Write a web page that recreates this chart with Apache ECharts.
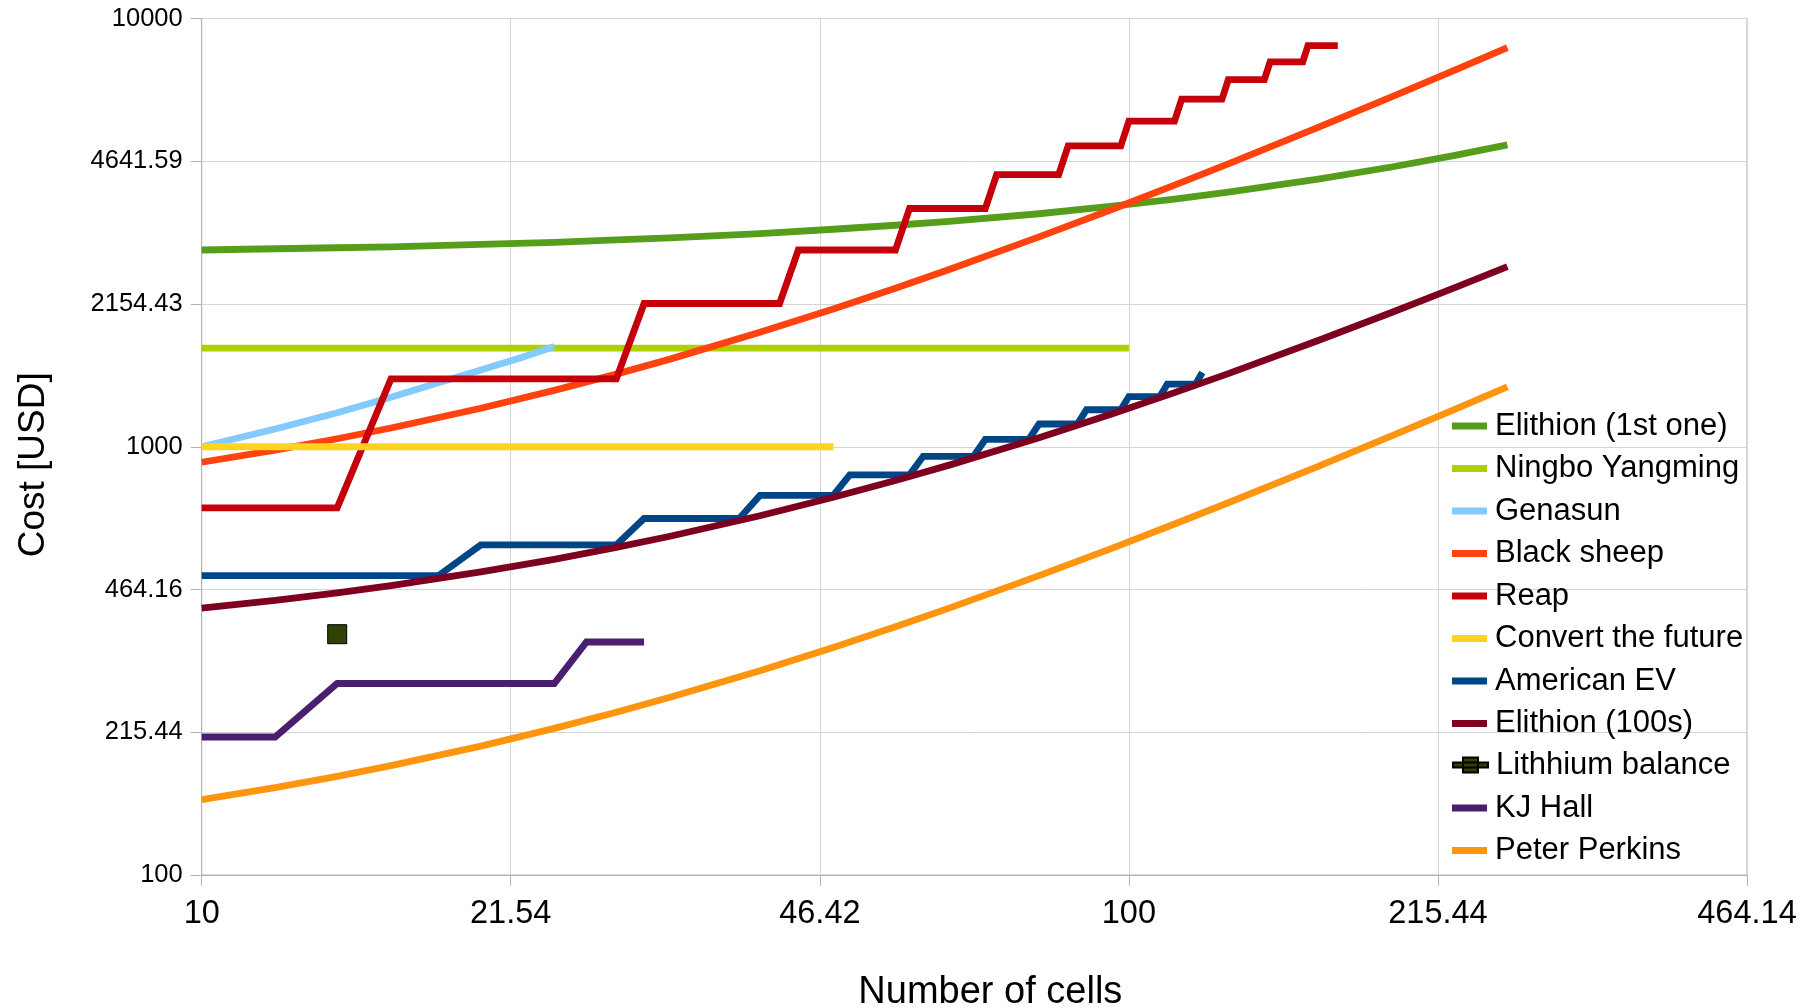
<!DOCTYPE html>
<html>
<head>
<meta charset="utf-8">
<script src="https://cdn.jsdelivr.net/npm/echarts@6/dist/echarts.min.js"></script>
<style>
html,body{margin:0;padding:0;background:#fff;}
#chart{width:1818px;height:1008px;}
</style>
</head>
<body>
<div id="chart"></div>
<script>
// ---- data ----
const X_TICKS = [10, 21.54, 46.42, 100, 215.44, 464.14];
const Y_TICKS = [100, 215.44, 464.16, 1000, 2154.43, 4641.59, 10000];

const N_CURVE = [10, 12, 14, 16, 20, 24, 28, 32, 40, 48, 56, 64, 80, 96, 112, 128, 160, 192, 224, 256];
const ELITHION_1ST = [2880, 2900, 2915, 2930, 2970, 3000, 3040, 3075, 3145, 3220, 3290, 3360, 3500, 3645, 3785, 3930, 4215, 4500, 4785, 5070];
const BLACK_SHEEP = [920, 982, 1044, 1106, 1230, 1354, 1478, 1602, 1850, 2098, 2346, 2594, 3090, 3586, 4082, 4578, 5570, 6562, 7554, 8546];
const ELITHION_100S = [420, 438, 456, 474, 510, 546, 582, 618, 690, 762, 834, 906, 1050, 1194, 1338, 1482, 1770, 2058, 2346, 2634];
const PETER_PERKINS = [150, 160, 170, 180, 200, 220, 240, 260, 300, 340, 380, 420, 500, 580, 660, 740, 900, 1060, 1220, 1380];

const NINGBO_N = [10, 100];
const NINGBO_COST = [1700, 1700];

const GENASUN_N = [10, 12, 14, 16, 18, 20, 22, 24];
const GENASUN_COST = [1000, 1100, 1200, 1305, 1410, 1510, 1610, 1715];

const REAP_N = [10, 14, 16, 28, 30, 42, 44, 56, 58, 70, 72, 84, 86, 98, 100, 112, 114, 126, 128, 140, 142, 154, 156, 168];
const REAP_COST = [720, 720, 1440, 1440, 2160, 2160, 2880, 2880, 3600, 3600, 4320, 4320, 5040, 5040, 5760, 5760, 6480, 6480, 7200, 7200, 7920, 7920, 8640, 8640];

const CTF_N = [10, 48];
const CTF_COST = [1000, 1000];

const AEV_N = [10, 18, 20, 28, 30, 38, 40, 48, 50, 58, 60, 68, 70, 78, 80, 88, 90, 98, 100, 108, 110, 118, 120];
const AEV_COST = [500, 500, 590, 590, 680, 680, 770, 770, 860, 860, 950, 950, 1040, 1040, 1130, 1130, 1220, 1220, 1310, 1310, 1400, 1400, 1490];

const LB_N = [14];
const LB_COST = [365];

const KJ_N = [10, 12, 14, 24, 26, 30];
const KJ_COST = [210, 210, 280, 280, 350, 350];

const NAMES = ['Elithion (1st one)', 'Ningbo Yangming', 'Genasun', 'Black sheep', 'Reap',
  'Convert the future', 'American EV', 'Elithion (100s)', 'Lithhium balance', 'KJ Hall', 'Peter Perkins'];
const COLORS = ['#579d1c', '#aecf00', '#83caff', '#ff420e', '#c5000b',
  '#ffd320', '#004586', '#7e0021', '#314004', '#4b1f6f', '#ff950e'];

// ---- build ----
function pairs(xs, ys) { return xs.map((x, i) => [x, ys[i]]); }
const SERIES_DATA = [
  pairs(N_CURVE, ELITHION_1ST),
  pairs(NINGBO_N, NINGBO_COST),
  pairs(GENASUN_N, GENASUN_COST),
  pairs(N_CURVE, BLACK_SHEEP),
  pairs(REAP_N, REAP_COST),
  pairs(CTF_N, CTF_COST),
  pairs(AEV_N, AEV_COST),
  pairs(N_CURVE, ELITHION_100S),
  pairs(LB_N, LB_COST),
  pairs(KJ_N, KJ_COST),
  pairs(N_CURVE, PETER_PERKINS)
];

const FONT = 'Liberation Sans, Arial, sans-serif';
function fmt(v) {
  const r = Math.round(v * 100) / 100;
  return Number.isInteger(r) ? String(r) : r.toFixed(2);
}

const series = NAMES.map((name, i) => {
  if (name === 'Lithhium balance') {
    return {
      name, type: 'line', data: SERIES_DATA[i],
      symbol: 'rect', symbolSize: 19,
      lineStyle: { width: 0 },
      itemStyle: { color: COLORS[i], borderColor: '#000', borderWidth: 1 },
      z: 2 + i
    };
  }
  return {
    name, type: 'line', data: SERIES_DATA[i],
    showSymbol: false, symbol: 'none',
    lineStyle: { width: 6.8, color: COLORS[i], join: 'miter', cap: 'butt' },
    itemStyle: { color: COLORS[i] },
    z: 2 + i
  };
});

const legendText = { fontFamily: FONT, fontSize: 31, color: '#000', lineHeight: 30, padding: [0, 0, 0, 3] };
const barIcon = 'rect';
function legendBlock(names, top, icon, h) {
  return {
    orient: 'vertical', left: 1452, top: top, padding: 0,
    itemWidth: 35, itemHeight: h, itemGap: 11.5,
    icon: icon,
    textStyle: legendText,
    data: names,
    selectedMode: false
  };
}

const option = {
  animation: false,
  backgroundColor: '#fff',
  grid: { left: 201.7, right: 71, top: 18.5, bottom: 133, show: true, borderColor: '#b3b3b3', borderWidth: 1, outerBoundsMode: 'none', containLabel: false },
  xAxis: {
    type: 'log', logBase: 10, min: 10, max: 464.14,
    name: 'Number of cells', nameLocation: 'middle', nameGap: 99,
    nameTextStyle: { fontFamily: FONT, fontSize: 38, color: '#000', padding: [0, 0, 0, 32] },
    axisLine: { show: true, lineStyle: { color: '#b3b3b3', width: 1 } },
    axisTick: { show: true, length: 11, lineStyle: { color: '#b3b3b3' }, customValues: X_TICKS },
    axisLabel: { customValues: X_TICKS, formatter: fmt, fontFamily: FONT, fontSize: 32.5, color: '#000', margin: 23 },
    splitLine: { show: true, lineStyle: { color: '#d4d4d4', width: 1 } },
    minorTick: { show: false }, minorSplitLine: { show: false }
  },
  yAxis: {
    type: 'log', logBase: 10, min: 100, max: 10000,
    name: 'Cost [USD]', nameLocation: 'middle', nameGap: 149,
    nameTextStyle: { fontFamily: FONT, fontSize: 37, color: '#000', padding: [0, 36, 0, 0] },
    axisLine: { show: true, lineStyle: { color: '#b3b3b3', width: 1 } },
    axisTick: { show: true, length: 11, lineStyle: { color: '#b3b3b3' }, customValues: Y_TICKS },
    axisLabel: { customValues: Y_TICKS, formatter: fmt, fontFamily: FONT, fontSize: 25.5, color: '#000', margin: 19 },
    splitLine: { show: true, lineStyle: { color: '#d4d4d4', width: 1 } },
    minorTick: { show: false }, minorSplitLine: { show: false }
  },
  legend: [
    legendBlock(NAMES.slice(0, 8), 410.5, barIcon, 7),
    legendBlock(['Lithhium balance'], 749.5, 'path://M0,5 L35,5 L35,10 L0,10 Z M10,0 L25,0 L25,15 L10,15 Z', 15),
    legendBlock(NAMES.slice(9), 792.5, barIcon, 7)
  ],
  series: series
};

const chart = echarts.init(document.getElementById('chart'), null, { renderer: 'canvas' });
chart.setOption(option);
</script>
</body>
</html>
